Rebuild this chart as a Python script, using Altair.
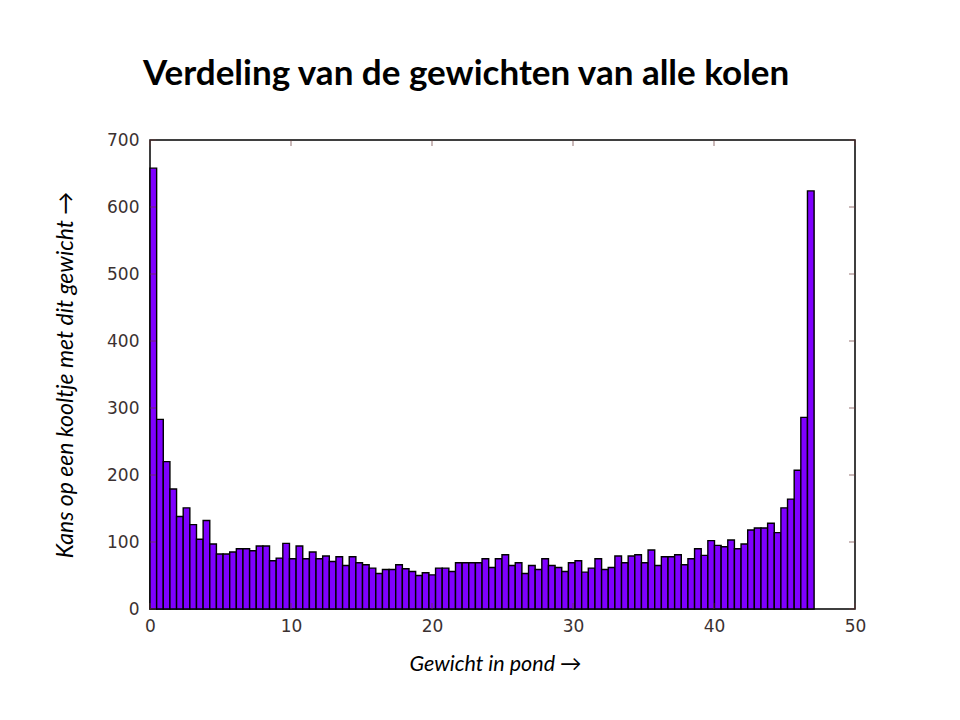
import altair as alt
import numpy as np
import pandas as pd

# Histogram counts (100 bins)
counts = [
    658, 283, 220, 179, 138, 151, 126, 104, 132, 97,
    82, 82, 85, 90, 90, 87, 94, 94, 72, 76,
    98, 75, 94, 75, 85, 75, 79, 71, 78, 65,
    78, 69, 66, 61, 53, 59, 59, 66, 60, 56,
    50, 54, 51, 61, 61, 56, 69, 69, 69, 69,
    75, 62, 75, 81, 65, 69, 53, 65, 59, 75,
    65, 62, 56, 69, 72, 55, 61, 75, 59, 62,
    79, 69, 79, 81, 69, 88, 65, 78, 78, 81,
    66, 75, 90, 80, 102, 95, 93, 103, 90, 97,
    118, 121, 121, 128, 114, 151, 164, 207, 286, 624,
]
max_weight = 47.1  # right edge of the last bin
x_ticks = [0, 10, 20, 30, 40, 50]
y_ticks = [0, 100, 200, 300, 400, 500, 600, 700]

edges = np.linspace(0, max_weight, len(counts) + 1)
df = pd.DataFrame({"start": edges[:-1], "end": edges[1:], "count": counts})
xt = pd.DataFrame({"v": x_ticks})
yt = pd.DataFrame({"v": y_ticks})

W, H = 705, 469
xscale = alt.Scale(domain=[0, 50], nice=False)
yscale = alt.Scale(domain=[0, 700], nice=False)

label_font = "DejaVu Sans"
label_color = "#3b3131"

bars = alt.Chart(df).mark_bar(
    fill="#7f00ff", stroke="black", strokeWidth=1.4
).encode(
    x=alt.X("start:Q", scale=xscale,
            axis=alt.Axis(values=x_ticks, title="Gewicht in pond  \u2192",
                          titlePadding=19, labelPadding=9, labelFlush=False,
                          titleX=345, titleAlign="center", titleFontSize=21.5)),
    x2="end:Q",
    y=alt.Y("count:Q", scale=yscale,
            axis=alt.Axis(values=y_ticks, title="Kans op een kooltje met dit gewicht  \u2192",
                          titlePadding=29, labelPadding=11, labelFlush=False,
                          titleFontSize=23)),
    y2=alt.datum(0),
)

tick_color = "#6b3b3b"
xt_bottom = alt.Chart(xt).mark_tick(color=tick_color, size=6, thickness=1).encode(
    x=alt.X("v:Q", scale=xscale), y=alt.value(H - 3))
xt_top = alt.Chart(xt).mark_tick(color=tick_color, size=6, thickness=1).encode(
    x=alt.X("v:Q", scale=xscale), y=alt.value(3))
yt_left = alt.Chart(yt).mark_tick(color=tick_color, size=6, thickness=1).encode(
    y=alt.Y("v:Q", scale=yscale), x=alt.value(3))
yt_right = alt.Chart(yt).mark_tick(color=tick_color, size=6, thickness=1).encode(
    y=alt.Y("v:Q", scale=yscale), x=alt.value(W - 3))

chart = alt.layer(bars, xt_bottom, xt_top, yt_left, yt_right).properties(
    width=W,
    height=H,
    title=alt.TitleParams(
        "Verdeling van de gewichten van alle kolen",
        anchor="start", frame="group", dx=-7, offset=11, baseline="alphabetic",
        font="Lato", fontSize=35, fontWeight="bold", color="black",
    ),
    autosize=alt.AutoSizeParams(type="none"),
    padding={"left": 142, "top": 132, "right": 95, "bottom": 95},
).configure_view(
    stroke="black", strokeWidth=1.5
).configure_axis(
    grid=False, domain=False, ticks=False,
    labelFont=label_font, labelFontSize=17, labelColor=label_color,
    titleFont="Lato", titleFontStyle="italic",
    titleFontWeight="normal", titleColor="black",
)

chart.save("out.html", embed_options={"renderer": "svg", "actions": False})
